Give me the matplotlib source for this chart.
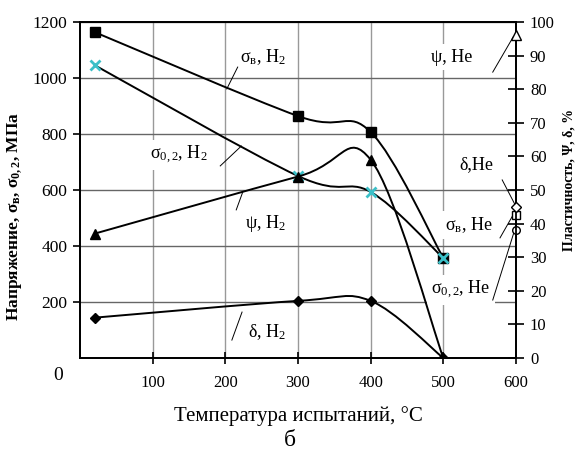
import numpy as np
import matplotlib
matplotlib.use("Agg")
import matplotlib.pyplot as plt
from matplotlib.path import Path
from matplotlib.patches import PathPatch

# test data
temps = [20, 300, 400, 500]
sigma_b_h2 = [1164, 864, 807, 357]     # MPa
sigma_02_h2 = [1046, 650, 593, 357]    # MPa
psi_h2 = [37, 54, 59, 0]               # %
delta_h2 = [12, 17, 17, 0]             # %

he_temp = 600
sigma_b_he = 510
sigma_02_he = 457
psi_he = 96
delta_he = 45

x_ticks = [100, 200, 300, 400, 500, 600]
left_ticks = [200, 400, 600, 800, 1000, 1200]
right_ticks = list(range(0, 101, 10))

plt.rcParams['font.family'] = ['Liberation Serif', 'DejaVu Serif']
plt.rcParams['mathtext.fontset'] = 'custom'
plt.rcParams['mathtext.rm'] = 'Liberation Serif'
plt.rcParams['mathtext.it'] = 'Liberation Serif:italic'
plt.rcParams['mathtext.bf'] = 'Liberation Serif:bold'


def smooth_path(xs, ys):
    # bezier segments like a spreadsheet "smoothed line"
    pts = np.column_stack([xs, ys]).astype(float)
    n = len(pts)
    verts = [pts[0]]
    codes = [Path.MOVETO]
    for i in range(n - 1):
        p0 = pts[max(i - 1, 0)]
        p1 = pts[i]
        p2 = pts[i + 1]
        p3 = pts[min(i + 2, n - 1)]
        verts += [p1 + (p2 - p0) / 6, p2 - (p3 - p1) / 6, p2]
        codes += [Path.CURVE4] * 3
    return Path(verts, codes)


fig = plt.figure(figsize=(5.8, 4.69), dpi=100)
ax = fig.add_axes([80 / 580, 1 - 358 / 469, 436 / 580, 336 / 469])
ax2 = ax.twinx()

ax.set_xlim(0, 600)
ax.set_ylim(0, 1200)
ax2.set_ylim(0, 100)

ax.set_axisbelow(True)
ax.set_xticks(x_ticks)
ax.set_yticks(left_ticks)
ax2.set_yticks(right_ticks)
ax.grid(True, axis='y', color='#666666', lw=1.0)
ax.grid(True, axis='x', color='#999999', lw=1.0)

for sp in ax.spines.values():
    sp.set_color('black')
    sp.set_linewidth(1.3)
for sp in ax2.spines.values():
    sp.set_color('black')
    sp.set_linewidth(1.3)

ax.tick_params(axis='x', direction='inout', length=8, width=1.2, labelsize=12, pad=8)
ax.tick_params(axis='y', direction='out', length=5, width=1.2, labelsize=12.5, pad=4)
ax2.tick_params(axis='y', direction='inout', length=12, width=1.2, labelsize=12, pad=4)

# H2 curves
for vals, axis in [(sigma_b_h2, ax), (sigma_02_h2, ax), (psi_h2, ax2), (delta_h2, ax2)]:
    axis.add_patch(PathPatch(smooth_path(temps, vals), fill=False, lw=1.4,
                             color='black', zorder=4))

ax.plot(temps, sigma_b_h2, ls='none', marker='s', ms=7, color='black', zorder=5)
ax.plot(temps, sigma_02_h2, ls='none', marker='x', ms=6.5, mew=2.0, color='#3cc0c8', zorder=5)
ax2.plot(temps, psi_h2, ls='none', marker='^', ms=7, color='black', zorder=5)
ax2.plot(temps, delta_h2, ls='none', marker='D', ms=5.5, color='black', zorder=5)

# He points on the right edge
ax.plot([he_temp], [sigma_b_he], ls='none', marker='s', ms=6, mfc='white', mec='black',
        mew=1, clip_on=False, zorder=6)
ax.plot([he_temp], [sigma_02_he], ls='none', marker='o', ms=5.5, mfc='white', mec='black',
        mew=1, clip_on=False, zorder=6)
ax2.plot([he_temp], [psi_he], ls='none', marker='^', ms=7, mfc='white', mec='black',
         mew=1, clip_on=False, zorder=6)
ax2.plot([he_temp], [delta_he], ls='none', marker='D', ms=5.5, mfc='white', mec='black',
         mew=1, clip_on=False, zorder=6)

# curve labels with leader lines (left-axis coords)
labels = [
    ('σ$_\\mathrm{в}$, H$_2$', 252, 1075, (217, 202), (1039, 961)),
    ('σ$_{0,2}$, H$_2$', 136, 725, (222, 193), (757, 686)),
    ('ψ, H$_2$', 255, 479, (224, 215), (593, 529)),
    ('δ, H$_2$', 257, 93, (223, 209), (164, 64)),
    ('ψ, He', 512, 1075, (568, 596), (1021, 1146)),
    ('δ,He', 545, 689, (581, 599), (636, 546)),
    ('σ$_\\mathrm{в}$, He', 535, 475, (578, 596), (429, 511)),
    ('σ$_{0,2}$, He', 524, 243, (568, 599), (207, 464)),
]
for txt, tx, ty, lx, ly in labels:
    ax.text(tx, ty, txt, fontsize=13, ha='center', va='center', zorder=3,
            bbox=dict(facecolor='white', edgecolor='none', pad=3))
    ax.plot(lx, ly, color='black', lw=0.7, zorder=3)

ax.set_xlabel('Температура испытаний, °C', fontsize=15, labelpad=11)
ax.set_ylabel('Напряжение, σ$_\\mathbf{в}$, σ$_\\mathbf{0,2}$, МПа', fontsize=12.5,
              fontweight='bold')
ax.yaxis.set_label_coords(-0.128, 0.4226)
ax2.set_ylabel('Пластичность, Ψ, δ, %', fontsize=10, fontweight='bold', rotation=90)
ax2.yaxis.set_label_coords(1.106, 0.53)

fig.text(58 / 580, 1 - 375 / 469, '0', fontsize=14, ha='center', va='center')
fig.text(290 / 580, 1 - 440 / 469, 'б', fontsize=17, ha='center', va='center')

fig.savefig('out.png', dpi=100, facecolor='white')
